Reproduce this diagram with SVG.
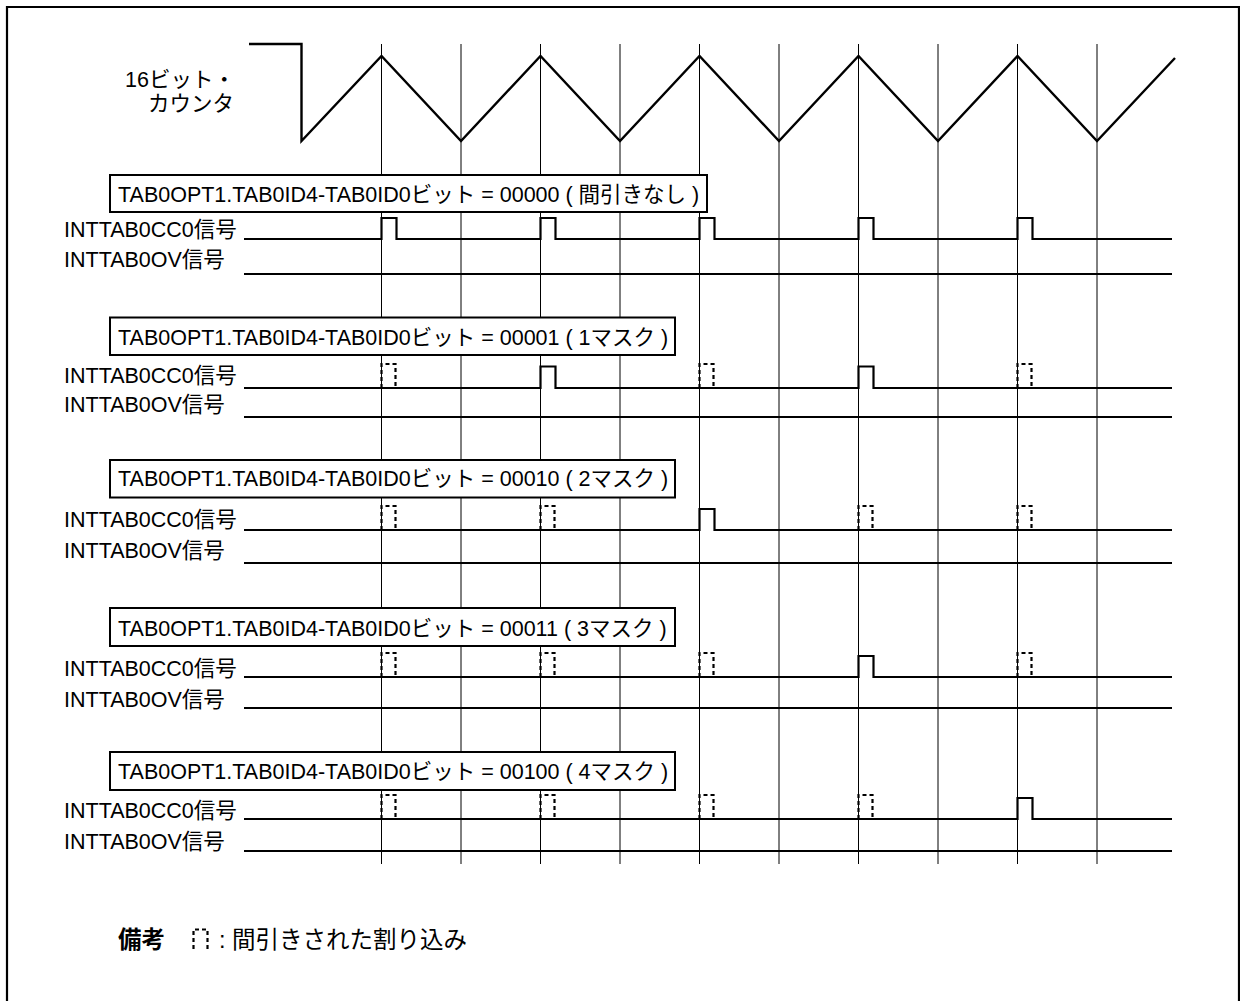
<svg xmlns="http://www.w3.org/2000/svg" width="1240" height="1001" viewBox="0 0 1240 1001">
<style>
.t{font-family:"Liberation Sans",Arial,"Noto Sans CJK JP",sans-serif;font-size:21.5px;fill:#000}
.lg{font-family:"Liberation Sans",Arial,"Noto Sans CJK JP",sans-serif;font-size:23.5px;fill:#000}
.b{font-weight:bold}
.box{fill:#fff;stroke:#000;stroke-width:2}
.sig{fill:none;stroke:#000;stroke-width:2.2}
.dash{fill:none;stroke:#000;stroke-width:2.2;stroke-dasharray:4 3}
.grid{stroke:#000;stroke-width:1}
.wave{fill:none;stroke:#000;stroke-width:2.4}
.frame{fill:none;stroke:#000;stroke-width:2.2}
</style>
<rect width="1240" height="1001" fill="#fff"/>
<g id="frame"><path class="frame" d="M7,1010 V7 H1239 V1010"/></g>

<g id="connectors">
<g class="grid">
<line x1="381.5" y1="44" x2="381.5" y2="864"/>
<line x1="461" y1="44" x2="461" y2="864"/>
<line x1="540.5" y1="44" x2="540.5" y2="864"/>
<line x1="620" y1="44" x2="620" y2="864"/>
<line x1="699.5" y1="44" x2="699.5" y2="864"/>
<line x1="779" y1="44" x2="779" y2="864"/>
<line x1="858.5" y1="44" x2="858.5" y2="864"/>
<line x1="938" y1="44" x2="938" y2="864"/>
<line x1="1017.5" y1="44" x2="1017.5" y2="864"/>
<line x1="1097" y1="44" x2="1097" y2="864"/>
</g>
</g>

<g id="counter">
<text class="t" x="125" y="87">16ビット・</text>
<text class="t" x="148" y="111">カウンタ</text>
<path class="wave" d="M249,44 H301.5 V141 L381.5,56 L461,141 L540.5,56 L620,141 L699.5,56 L779,141 L858.5,56 L938,141 L1017.5,56 L1097,141 L1175,58"/>
</g>

<g id="row-1">
<rect class="box" x="110" y="175" width="597" height="37"/>
<text class="t" x="118" y="202">TAB0OPT1.TAB0ID4-TAB0ID0ビット = 00000 ( 間引きなし )</text>
<text class="t" x="64" y="237">INTTAB0CC0信号</text>
<text class="t" x="64" y="267">INTTAB0OV信号</text>
<path class="sig" d="M244,239 H381.5 V218 H396.5 V239 H540.5 V218 H555.5 V239 H699.5 V218 H714.5 V239 H858.5 V218 H873.5 V239 H1017.5 V218 H1032.5 V239 H1172"/>
<path class="sig" d="M244,274 H1172"/>
</g>

<g id="row-2">
<rect class="box" x="110" y="317.5" width="565" height="37.5"/>
<text class="t" x="118" y="344.5">TAB0OPT1.TAB0ID4-TAB0ID0ビット = 00001 ( 1マスク )</text>
<text class="t" x="64" y="382.5">INTTAB0CC0信号</text>
<text class="t" x="64" y="412">INTTAB0OV信号</text>
<path class="sig" d="M244,388 H540.5 V366.5 H555.5 V388 H858.5 V366.5 H873.5 V388 H1172"/>
<path class="dash" d="M381.5,388 V364 H395.5 V388"/>
<path class="dash" d="M699.5,388 V364 H713.5 V388"/>
<path class="dash" d="M1017.5,388 V364 H1031.5 V388"/>
<path class="sig" d="M244,417 H1172"/>
</g>

<g id="row-3">
<rect class="box" x="110" y="460" width="565" height="37.5"/>
<text class="t" x="118" y="486">TAB0OPT1.TAB0ID4-TAB0ID0ビット = 00010 ( 2マスク )</text>
<text class="t" x="64" y="526.5">INTTAB0CC0信号</text>
<text class="t" x="64" y="557.5">INTTAB0OV信号</text>
<path class="sig" d="M244,530 H699.5 V509 H714.5 V530 H1172"/>
<path class="dash" d="M381.5,530 V506 H395.5 V530"/>
<path class="dash" d="M540.5,530 V506 H554.5 V530"/>
<path class="dash" d="M858.5,530 V506 H872.5 V530"/>
<path class="dash" d="M1017.5,530 V506 H1031.5 V530"/>
<path class="sig" d="M244,563 H1172"/>
</g>

<g id="row-4">
<rect class="box" x="110" y="608" width="565" height="38"/>
<text class="t" x="118" y="636">TAB0OPT1.TAB0ID4-TAB0ID0ビット = 00011 ( 3マスク )</text>
<text class="t" x="64" y="675.5">INTTAB0CC0信号</text>
<text class="t" x="64" y="706.5">INTTAB0OV信号</text>
<path class="sig" d="M244,677 H858.5 V656 H873.5 V677 H1172"/>
<path class="dash" d="M381.5,677 V653 H395.5 V677"/>
<path class="dash" d="M540.5,677 V653 H554.5 V677"/>
<path class="dash" d="M699.5,677 V653 H713.5 V677"/>
<path class="dash" d="M1017.5,677 V653 H1031.5 V677"/>
<path class="sig" d="M244,708 H1172"/>
</g>

<g id="row-5">
<rect class="box" x="110" y="752" width="565" height="38"/>
<text class="t" x="118" y="778.5">TAB0OPT1.TAB0ID4-TAB0ID0ビット = 00100 ( 4マスク )</text>
<text class="t" x="64" y="818">INTTAB0CC0信号</text>
<text class="t" x="64" y="848.5">INTTAB0OV信号</text>
<path class="sig" d="M244,819 H1017.5 V798 H1032.5 V819 H1172"/>
<path class="dash" d="M381.5,819 V795 H395.5 V819"/>
<path class="dash" d="M540.5,819 V795 H554.5 V819"/>
<path class="dash" d="M699.5,819 V795 H713.5 V819"/>
<path class="dash" d="M858.5,819 V795 H872.5 V819"/>
<path class="sig" d="M244,851 H1172"/>
</g>

<g id="legend">
<text class="lg b" x="118" y="948">備考</text>
<path class="dash" d="M193.5,949 V929.5 H207.5 V949"/>
<text class="lg" x="219" y="948">: 間引きされた割り込み</text>
</g>
</svg>
